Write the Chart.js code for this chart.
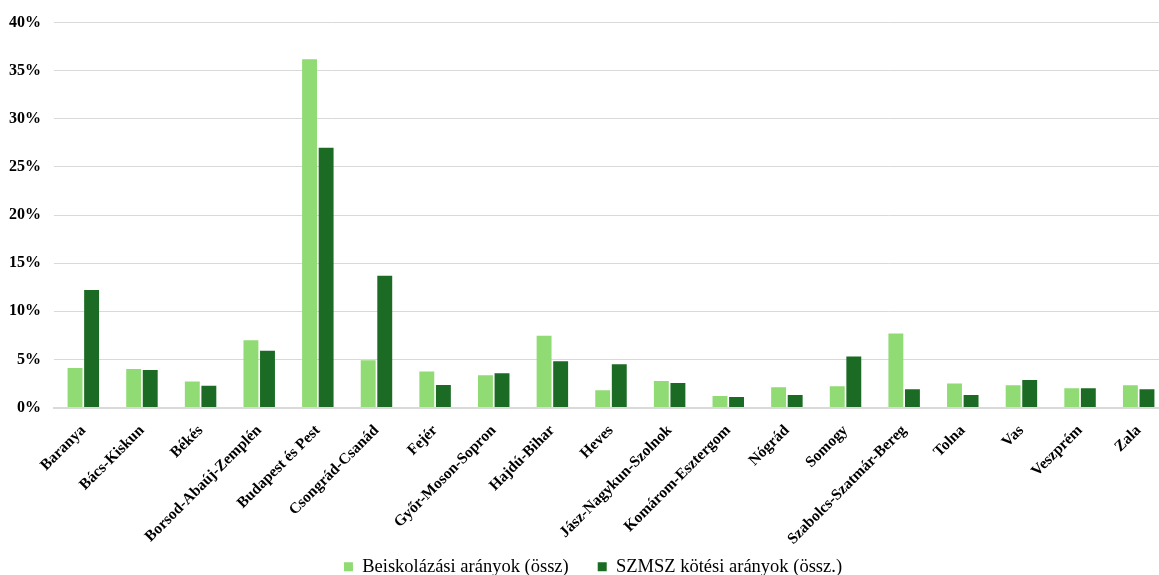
<!DOCTYPE html>
<html>
<head>
<meta charset="utf-8">
<script src="https://cdn.jsdelivr.net/npm/chart.js@4.4.0/dist/chart.umd.min.js"></script>
<style>
html,body{margin:0;padding:0;background:#fff;overflow:hidden;width:1159px;height:575px;}
#c{position:absolute;left:0;top:0;}
</style>
</head>
<body>
<canvas id="c" width="1168" height="610" style="width:1168px;height:610px;"></canvas>
<script>
const categories = ["Baranya","Bács-Kiskun","Békés","Borsod-Abaúj-Zemplén","Budapest és Pest","Csongrád-Csanád","Fejér","Győr-Moson-Sopron","Hajdú-Bihar","Heves","Jász-Nagykun-Szolnok","Komárom-Esztergom","Nógrád","Somogy","Szabolcs-Szatmár-Bereg","Tolna","Vas","Veszprém","Zala"];
const seriesNames = ["Beiskolázási arányok (össz)","SZMSZ kötési arányok (össz.)"];
const beiskolazasi = [4.1,4.0,2.7,7.0,36.2,4.9,3.75,3.35,7.45,1.8,2.75,1.2,2.1,2.2,7.7,2.5,2.3,2.0,2.3];
const szmsz = [12.2,3.9,2.25,5.9,27.0,13.7,2.35,3.55,4.8,4.5,2.55,1.1,1.3,5.3,1.9,1.3,2.85,2.0,1.9];
const yTicks = [0,5,10,15,20,25,30,35,40];

const legendShift = {
  id: 'legendShift',
  afterLayout(chart) {
    const l = chart.legend;
    l.top -= 24; l.bottom -= 24;
    l.left += 7; l.right += 7;
  }
};

new Chart(document.getElementById('c'), {
  type: 'bar',
  data: {
    labels: categories,
    datasets: [
      {label: seriesNames[0], data: beiskolazasi, backgroundColor: '#90DB74', borderWidth:0},
      {label: seriesNames[1], data: szmsz, backgroundColor: '#1B6B24', borderWidth:0}
    ]
  },
  plugins: [legendShift],
  options: {
    responsive: false,
    devicePixelRatio: 1,
    animation: false,
    layout: {padding: {top: 13, right: 0, left: 4, bottom: 0}},
    datasets: {bar: {categoryPercentage: 0.565, barPercentage: 0.9}},
    plugins: {
      legend: {
        position: 'bottom',
        labels: {
          font: {family: '"Liberation Serif", "Times New Roman", serif', size: 18.5},
          color: '#000',
          boxWidth: 9, boxHeight: 9, padding: 29
        }
      },
      tooltip: {enabled: false}
    },
    scales: {
      x: {
        afterFit: (s) => { s.height = 145; },
        grid: {display: false, drawTicks: false},
        border: {color: '#d9d9d9', width: 2},
        ticks: {
          maxRotation: 45, minRotation: 45, autoSkip: false, padding: 14,
          color: '#000',
          font: {family: '"Liberation Serif", "Times New Roman", serif', size: 15.5, weight: 'bold'}
        }
      },
      y: {
        min: 0, max: 40,
        afterFit: (s) => { s.width = 50; },
        afterBuildTicks: (s) => { s.ticks = yTicks.map(v => ({value: v})); },
        grid: {color: '#d9d9d9', drawTicks: false},
        border: {display: false},
        ticks: {
          padding: 13,
          color: '#000',
          font: {family: '"Liberation Serif", "Times New Roman", serif', size: 16, weight: 'bold'},
          callback: (v) => v + '%'
        }
      }
    }
  }
});
</script>
</body>
</html>
